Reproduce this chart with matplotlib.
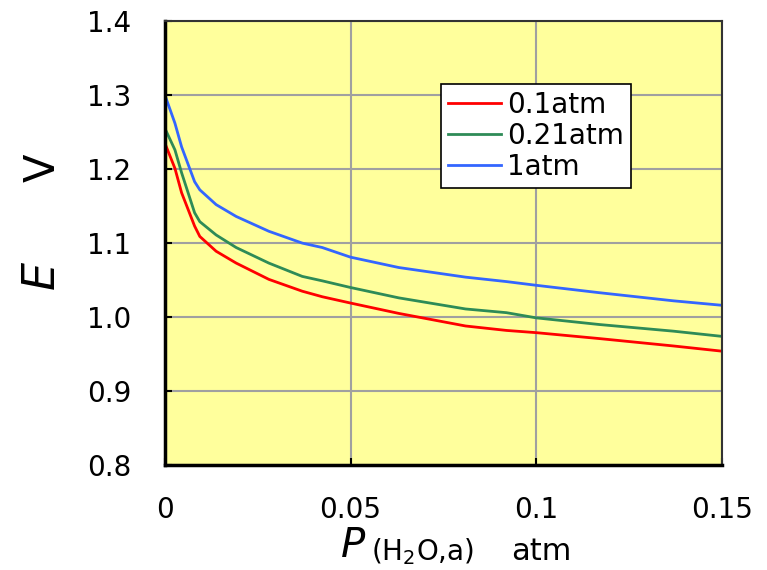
import matplotlib
matplotlib.use("Agg")
import matplotlib.pyplot as plt

# P(H2O,a) in atm
p_h2o = [0, 0.0027, 0.0045, 0.008, 0.0094, 0.0138, 0.0192, 0.028, 0.037,
         0.0424, 0.05, 0.063, 0.081, 0.092, 0.1, 0.117, 0.137, 0.15]

e_01 = [1.235, 1.201, 1.168, 1.123, 1.109, 1.089, 1.073, 1.051, 1.035,
        1.0275, 1.019, 1.005, 0.988, 0.982, 0.979, 0.971, 0.961, 0.954]
e_021 = [1.255, 1.226, 1.195, 1.141, 1.129, 1.111, 1.094, 1.073, 1.055,
         1.049, 1.040, 1.026, 1.011, 1.006, 0.999, 0.990, 0.981, 0.974]
e_1 = [1.300, 1.262, 1.230, 1.183, 1.172, 1.152, 1.136, 1.116, 1.100,
       1.094, 1.081, 1.067, 1.054, 1.048, 1.043, 1.033, 1.022, 1.016]

labels = ["0.1atm", "0.21atm", "1atm"]
colors = ["#ff0000", "#2e8b57", "#3366ff"]

x_ticks = [0, 0.05, 0.1, 0.15]
x_ticklabels = ["0", "0.05", "0.1", "0.15"]
y_ticks = [0.8, 0.9, 1.0, 1.1, 1.2, 1.3, 1.4]
y_ticklabels = ["0.8", "0.9", "1.0", "1.1", "1.2", "1.3", "1.4"]

plt.rcParams["font.family"] = ["DejaVu Sans"]

fig = plt.figure(figsize=(7.67, 5.7), dpi=100)
ax = fig.add_axes([0.215, 0.184, 0.726, 0.779])
ax.set_facecolor("#ffff9c")

for ys, lab, c in zip([e_01, e_021, e_1], labels, colors):
    ax.plot(p_h2o, ys, color=c, linewidth=2.0, label=lab)

ax.set_xlim(0, 0.15)
ax.set_ylim(0.8, 1.4)
ax.set_xticks(x_ticks)
ax.set_xticklabels(x_ticklabels)
ax.set_yticks(y_ticks)
ax.set_yticklabels(y_ticklabels)
ax.tick_params(direction="in", length=5, width=1.5, labelsize=20)
ax.tick_params(axis="x", pad=22)
ax.tick_params(axis="y", pad=24)
ax.grid(True, color="#a0a0a0", linewidth=1.5)
ax.set_axisbelow(True)

for side in ["left", "bottom"]:
    ax.spines[side].set_linewidth(2.5)
    ax.spines[side].set_color("black")
for side in ["top", "right"]:
    ax.spines[side].set_linewidth(1.5)
    ax.spines[side].set_color("#333333")

leg = ax.legend(loc="upper left", bbox_to_anchor=(0.4955, 0.858), fontsize=20,
                frameon=True, fancybox=False, handlelength=1.9,
                handletextpad=0.25, labelspacing=0.1, borderpad=0.25,
                borderaxespad=0)
leg.get_frame().set_edgecolor("black")
leg.get_frame().set_linewidth(1.2)
leg.get_frame().set_alpha(1)

# y label: italic E, upright V
fig.text(0.055, 0.515, "$\\it{E}$", rotation=90, fontsize=32,
         ha="center", va="center")
fig.text(0.055, 0.705, "V", rotation=90, fontsize=30,
         ha="center", va="center")

# x label: italic P, then (H2O,a) and the unit
fig.text(0.461, 0.022, "$\\it{P}$", fontsize=29, ha="center", va="baseline")
fig.text(0.484, 0.018, "(H$_2$O,a)", fontsize=20, ha="left", va="baseline")
fig.text(0.667, 0.018, "atm", fontsize=22, ha="left", va="baseline")

fig.savefig("out.png", dpi=100)
